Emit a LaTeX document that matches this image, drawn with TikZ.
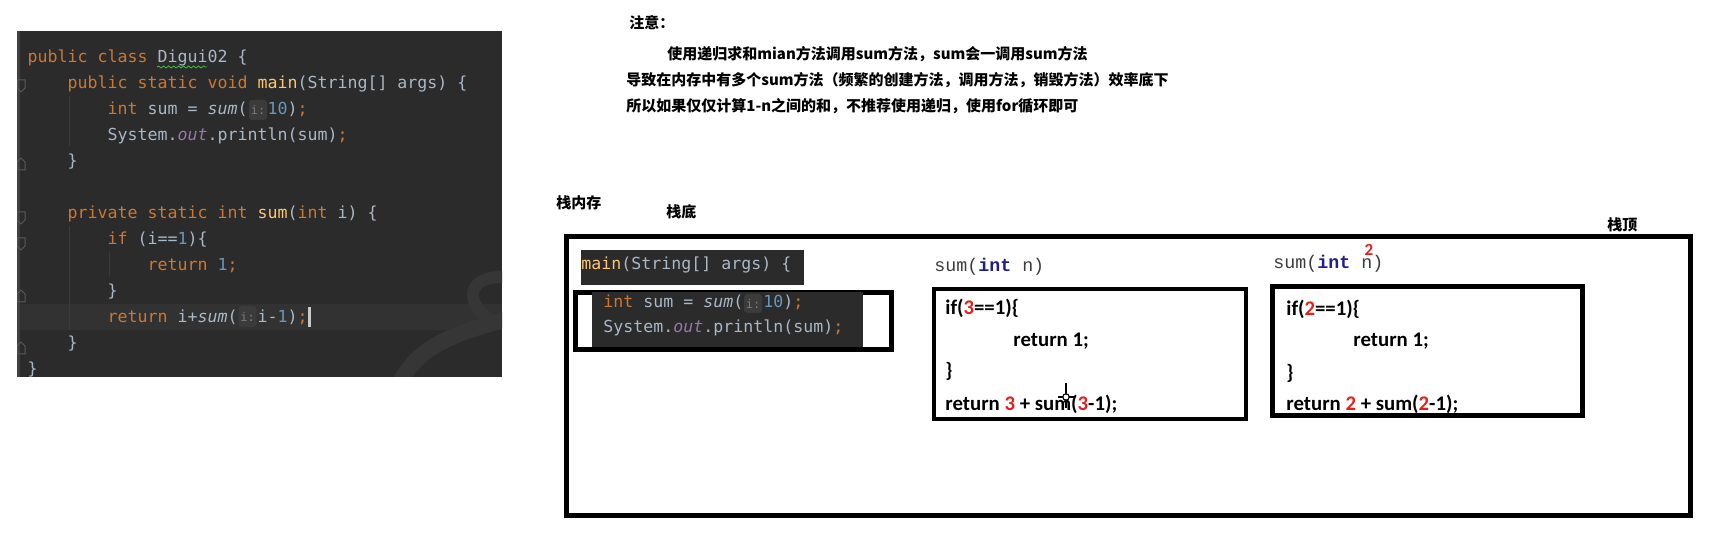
\documentclass[tikz,border=0pt]{standalone}
\usepackage{fontspec}
\usetikzlibrary{positioning,decorations.pathmorphing}
\newfontfamily\idefont{DejaVu Sans Mono}
\newfontfamily\consfont{Liberation Mono}
\newfontfamily\calfont{Carlito}
\newfontfamily\cjk{Noto Sans CJK SC}
\definecolor{idebg}{HTML}{2B2B2B}
\definecolor{idecur}{HTML}{323232}
\definecolor{idegray}{HTML}{A9B7C6}
\definecolor{kwc}{HTML}{CC7832}
\definecolor{fnc}{HTML}{FFC66D}
\definecolor{numc}{HTML}{6897BB}
\definecolor{fldc}{HTML}{9876AA}
\definecolor{hintbg}{HTML}{3B3B3B}
\definecolor{hintfg}{HTML}{7A7A7A}
\definecolor{guidec}{HTML}{3A3A3A}
\definecolor{foldc}{HTML}{5A5A5A}
\definecolor{siggray}{HTML}{3C3C3C}
\definecolor{sigblue}{HTML}{1E1E8C}
\definecolor{redc}{HTML}{E3201B}

\begin{document}
\begin{tikzpicture}[x=0.5pt,y=-0.5pt,
  code/.style={anchor=base west, inner sep=0pt, text=idegray,
               font=\idefont\fontsize{8.3pt}{10pt}\selectfont},
  note/.style={anchor=base west, inner sep=0pt,
               font=\cjk\bfseries\fontsize{7.5pt}{9pt}\selectfont},
  frametxt/.style={anchor=base west, inner sep=0pt,
                   font=\calfont\bfseries\fontsize{10.4pt}{12pt}\selectfont},
  sig/.style={anchor=base west, inner sep=0pt, text=siggray,
              font=\consfont\fontsize{9.15pt}{11pt}\selectfont},
  hint/.style={fill=hintbg, rounded corners=1.5pt, inner sep=0pt,
               minimum width=9pt, text=hintfg,
               font=\idefont\fontsize{6pt}{7pt}\selectfont},
  heavy/.style={draw=black, line width=2.5pt},
  fold/.style={draw=foldc, line width=0.5pt},
]
  \useasboundingbox (0,0) rectangle (1729,544);

  %% IDE code panel
  \fill[idebg] (17,31) rectangle (502,377);
  \begin{scope}
    \clip (17,31) rectangle (502,377);
    \fill[idecur] (17,304) rectangle (502,330);
    \draw[color=white!5!idebg, line width=8pt, line cap=round]
      (398,385) .. controls (420,345) and (450,335) .. (510,318);
    \draw[color=white!5!idebg, line width=6pt, line cap=round]
      (510,278) .. controls (470,272) and (462,300) .. (488,318);
    \draw[color=white!10!idebg, line width=1.5pt] (18.5,31) -- (18.5,377);
    \draw[guidec] (69,96) -- (69,146) (69,226) -- (69,330) (109,252) -- (109,276);
    \foreach \y in {86,218,244}
      \draw[fold] (17,\y-6) -- (25,\y-6) -- (25,\y+2) -- (21,\y+6) -- (17,\y+2) -- cycle;
    \foreach \y in {164,296,348}
      \draw[fold] (17,\y+6) -- (25,\y+6) -- (25,\y-2) -- (21,\y-6) -- (17,\y-2) -- cycle;

    \node[code] (c1) at (27.3,62.5) {\textcolor{kwc}{public class} Digui02 \{};
    \node[code] (c2) at (67.3,88.5) {\textcolor{kwc}{public static void} \textcolor{fnc}{main}(String[] args) \{};
    \node[code] (c3) at (107.3,114.5) {\textcolor{kwc}{int} sum = {\itshape sum}(\phantom{ii}\textcolor{numc}{10})\textcolor{kwc}{;}};
    \node[code] (c4) at (107.3,140.5) {System.\textcolor{fldc}{\itshape out}.println(sum)\textcolor{kwc}{;}};
    \node[code] (c5) at (67.3,166.5) {\}};
    \node[code] (c7) at (67.3,218.5) {\textcolor{kwc}{private static int} \textcolor{fnc}{sum}(\textcolor{kwc}{int} i) \{};
    \node[code] (c8) at (107.3,244.5) {\textcolor{kwc}{if} (i==\textcolor{numc}{1})\{};
    \node[code] (c9) at (147.3,270.5) {\textcolor{kwc}{return} \textcolor{numc}{1}\textcolor{kwc}{;}};
    \node[code] (c10) at (107.3,296.5) {\}};
    \node[code] (c11) at (107.3,322.5) {\textcolor{kwc}{return} i+{\itshape sum}(\phantom{ii}i-\textcolor{numc}{1})\textcolor{kwc}{;}};
    \node[code] (c12) at (67.3,348.5) {\}};
    \node[code] (c13) at (27.3,374.5) {\}};
    \node[hint, minimum height=10pt] (h3) at (258,110) {i:};
    \node[hint, minimum height=10.5pt] (h11) at (247.5,316.5) {i:};
    \draw[color=green!45!gray, decorate,
          decoration={snake, amplitude=0.5pt, segment length=2.5pt}] (157,67) -- (207,67);
    \fill[white!75!idebg] (308,307) rectangle (311,327);
  \end{scope}

  %% Notes
  \node[note] (n0) at (629,28.5) {注意：};
  \node[note] (n1) at (667,59.5) {使用递归求和mian方法调用sum方法，sum会一调用sum方法};
  \node[note] (n2) at (626,85.5) {导致在内存中有多个sum方法（频繁的创建方法，调用方法，销毁方法）效率底下};
  \node[note] (n3) at (626,111.5) {所以如果仅仅计算1-n之间的和，不推荐使用递归，使用for循环即可};

  %% Stack labels
  \node[note] (stk) at (556,208.5) {栈内存};
  \node[note] (bot) at (666,217.5) {栈底};
  \node[note] (top) at (1607,230.5) {栈顶};

  %% Stack frame
  \draw[heavy] (566.5,236.5) rectangle (1690.5,515.5);

  %% main frame
  \fill[idebg] (581,250) rectangle (804,285);
  \node[code] (m0) at (581,270) {\textcolor{fnc}{main}(String[] args) \{};
  \draw[heavy] (575.5,292.5) rectangle (891.5,349.5);
  \fill[idebg] (592,292) rectangle (863,347);
  \node[code] (m1) at (603,308) {\textcolor{kwc}{int} sum = {\itshape sum}(\phantom{ii}\textcolor{numc}{10})\textcolor{kwc}{;}};
  \node[code] (m2) at (603,333) {System.\textcolor{fldc}{\itshape out}.println(sum)\textcolor{kwc}{;}};
  \node[hint, minimum height=9.5pt] (mh) at (753,303.5) {i:};

  %% sum(3) frame
  \node[sig] (s3) at (934,272) {sum(\textcolor{sigblue}{\bfseries int} n)};
  \draw[black, line width=2pt] (934,289) rectangle (1246,419);
  \node[frametxt] (a1) at (945,315) {if(\textcolor{redc}{3}==1)\{};
  \node[frametxt] (a2) at (1013,347) {return 1;};
  \node[frametxt] (a3) at (945,378) {\}};
  \node[frametxt] (a4) at (945,411) {return \textcolor{redc}{3} + sum(\textcolor{redc}{3}-1);};
  %% mouse cursor
  \draw[black, line width=0.6pt] (1066,383) -- (1066,408) (1058,397) -- (1074,397);
  \draw[black, fill=white, line width=0.6pt] (1066,397) circle (1.6pt);

  %% sum(2) frame
  \node[sig] (s2) at (1273,269) {sum(\textcolor{sigblue}{\bfseries int} n)};
  \node[frametxt, anchor=center, text=redc, font=\calfont\bfseries\fontsize{8.5pt}{10pt}\selectfont] (r2) at (1369,250) {2};
  \draw[heavy] (1272.5,286.5) rectangle (1582.5,415.5);
  \node[frametxt] (b1) at (1286,316) {if(\textcolor{redc}{2}==1)\{};
  \node[frametxt] (b2) at (1353,347) {return 1;};
  \node[frametxt] (b3) at (1286,380) {\}};
  \node[frametxt] (b4) at (1286,411) {return \textcolor{redc}{2} + sum(\textcolor{redc}{2}-1);};
\end{tikzpicture}
\end{document}
